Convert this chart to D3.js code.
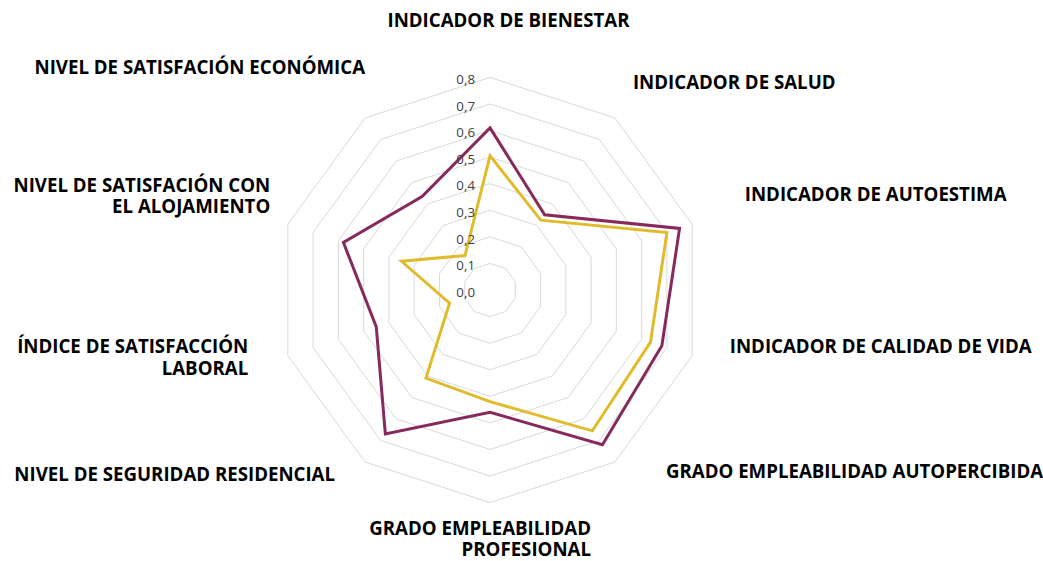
<!DOCTYPE html>
<html>
<head>
<meta charset="utf-8">
<script src="https://cdn.jsdelivr.net/npm/d3@7"></script>
<style>
  body { margin: 0; background: #fff; }
  svg { display: block; font-family: "Open Sans", sans-serif; }
</style>
</head>
<body>
<svg width="1043" height="561"></svg>
<script>
// Data
var categories = [
  ["INDICADOR DE BIENESTAR"],
  ["INDICADOR DE SALUD"],
  ["INDICADOR DE AUTOESTIMA"],
  ["INDICADOR DE CALIDAD DE VIDA"],
  ["GRADO EMPLEABILIDAD AUTOPERCIBIDA"],
  ["GRADO EMPLEABILIDAD", "PROFESIONAL"],
  ["NIVEL DE SEGURIDAD RESIDENCIAL"],
  ["ÍNDICE DE SATISFACCIÓN", "LABORAL"],
  ["NIVEL DE SATISFACIÓN CON", "EL ALOJAMIENTO"],
  ["NIVEL DE SATISFACIÓN ECONÓMICA"]
];
var seriesPurple = [0.61, 0.35, 0.75, 0.68, 0.72, 0.46, 0.67, 0.45, 0.58, 0.435];
var seriesYellow = [0.505, 0.325, 0.70, 0.635, 0.655, 0.42, 0.41, 0.16, 0.35, 0.16];
var tickValues = [0, 0.1, 0.2, 0.3, 0.4, 0.5, 0.6, 0.7, 0.8];

// Layout
var svg = d3.select("svg"),
    cx = 490, cy = 290,
    R = 212.6;

var r = d3.scaleLinear().domain([0, 0.8]).range([0, R]);
var n = categories.length;
var angle = function(i) { return i * 2 * Math.PI / n; };

function pt(i, v) {
  var a = angle(i);
  return [cx + Math.sin(a) * r(v), cy - Math.cos(a) * r(v)];
}

// label nudges (anchor, dx, dy) from a base circle
var labelR = 250;
var labelAdj = [
  ["middle", 18.5, -20], ["start", -4, -5.5], ["start", 17, -18], ["start", 2, -21],
  ["start", 29, -21], ["end", 101, -1], ["end", -8, -18], ["end", -4, -10],
  ["end", 18, -17], ["end", 22, -20.5]
];

// Grid rings (no spokes)
var grid = svg.append("g").attr("class", "grid");
tickValues.slice(1).forEach(function(t) {
  grid.append("polygon")
    .attr("points", d3.range(n).map(function(i) { return pt(i, t).join(","); }).join(" "))
    .attr("fill", "none")
    .attr("stroke", "#d9d9d9")
    .attr("stroke-width", 1);
});

// Series
var line = d3.line().curve(d3.curveLinearClosed);
[[seriesYellow, "#e0bc2c"], [seriesPurple, "#862a5c"]].forEach(function(s) {
  svg.append("path")
    .datum(s[0].map(function(v, i) { return pt(i, v); }))
    .attr("d", line)
    .attr("fill", "none")
    .attr("stroke", s[1])
    .attr("stroke-width", 3)
    .attr("stroke-linejoin", "miter");
});

// Tick labels
svg.append("g")
  .selectAll("text")
  .data(tickValues)
  .enter()
  .append("text")
  .attr("x", cx - 15)
  .attr("y", function(d) { return cy - r(d) + 2; })
  .attr("dy", "0.35em")
  .attr("text-anchor", "end")
  .attr("font-size", "13.3px")
  .attr("fill", "#404040")
  .text(function(d) { return d3.format(".1f")(d).replace(".", ","); });

// Category labels
categories.forEach(function(lines, i) {
  var a = angle(i),
      adj = labelAdj[i],
      x = cx + Math.sin(a) * labelR + adj[1],
      y = cy - Math.cos(a) * labelR + adj[2];
  var lh = 21.5;
  var t = svg.append("text")
    .attr("text-anchor", adj[0])
    .attr("font-size", "18.67px")
    .attr("font-weight", "bold")
    .attr("fill", "#000");
  lines.forEach(function(s, k) {
    t.append("tspan")
      .attr("x", x)
      .attr("y", y + (k - (lines.length - 1) / 2) * lh)
      .attr("dy", "0.35em")
      .text(s);
  });
});
</script>
</body>
</html>
